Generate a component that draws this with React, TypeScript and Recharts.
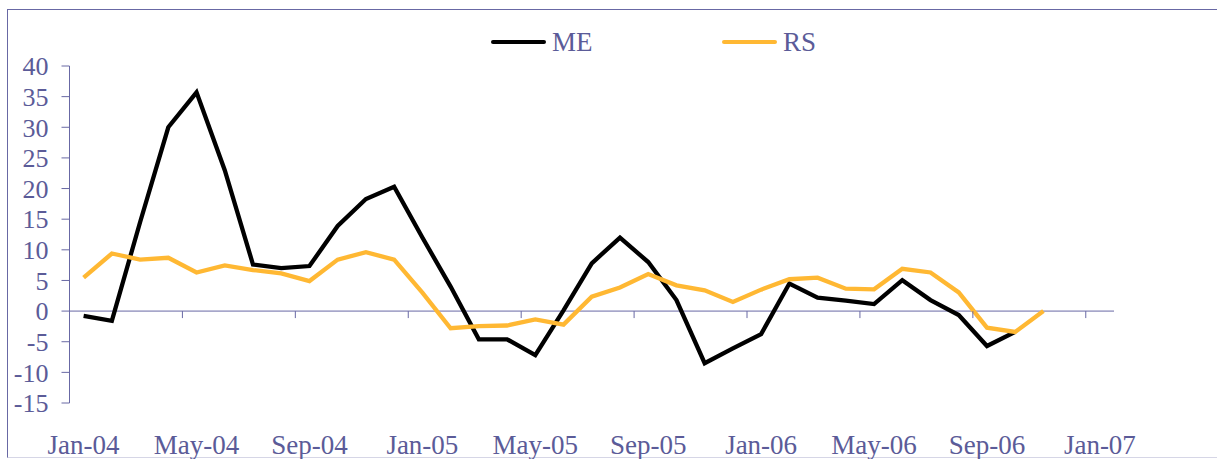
import React from 'react';
import {
  LineChart,
  Line,
  XAxis,
  YAxis,
  Legend,
  ReferenceLine,
} from 'recharts';

// Monthly categories, Jan-04 .. Jan-07
const months = [
  'Jan-04', 'Feb-04', 'Mar-04', 'Apr-04', 'May-04', 'Jun-04', 'Jul-04', 'Aug-04', 'Sep-04', 'Oct-04', 'Nov-04', 'Dec-04',
  'Jan-05', 'Feb-05', 'Mar-05', 'Apr-05', 'May-05', 'Jun-05', 'Jul-05', 'Aug-05', 'Sep-05', 'Oct-05', 'Nov-05', 'Dec-05',
  'Jan-06', 'Feb-06', 'Mar-06', 'Apr-06', 'May-06', 'Jun-06', 'Jul-06', 'Aug-06', 'Sep-06', 'Oct-06', 'Nov-06', 'Dec-06',
  'Jan-07',
];

const meValues: (number | null)[] = [
  -0.8, -1.6, 14.5, 30.0, 35.7, 23.0, 7.6, 7.0, 7.35, 13.9, 18.3, 20.3,
  12.0, 4.0, -4.6, -4.6, -7.2, 0.1, 7.8, 12.0, 8.0, 1.8, -8.5, -6.1,
  -3.75, 4.5, 2.2, 1.7, 1.15, 5.05, 1.8, -0.65, -5.7, -3.4, null, null,
  null,
];

const rsValues: (number | null)[] = [
  5.45, 9.4, 8.4, 8.7, 6.3, 7.45, 6.7, 6.15, 4.9, 8.4, 9.6, 8.4,
  3.0, -2.8, -2.45, -2.35, -1.35, -2.2, 2.35, 3.85, 6.05, 4.2, 3.4, 1.5,
  3.5, 5.2, 5.45, 3.65, 3.55, 6.9, 6.3, 3.05, -2.7, -3.4, 0.0, null,
  null,
];

const yTicks = [-15, -10, -5, 0, 5, 10, 15, 20, 25, 30, 35, 40];

const data = months.map((m, i) => ({ month: m, ME: meValues[i], RS: rsValues[i] }));

const W = 1217;
const H = 459;
const PLOT_LEFT = 69.5;
const PLOT_RIGHT = 1114;
const PLOT_TOP = 66;
const PLOT_BOTTOM = 403;
const Y_MIN = -15;
const Y_MAX = 40;
const BAND = (PLOT_RIGHT - PLOT_LEFT) / months.length;
const ZERO_Y = PLOT_TOP + ((Y_MAX - 0) / (Y_MAX - Y_MIN)) * (PLOT_BOTTOM - PLOT_TOP);

const AXIS = '#6868a4';
const TEXT = '#5b5b98';
const FONT = '"Liberation Serif", "Times New Roman", serif';

const XTick = (props: any) => {
  const { x, payload } = props;
  const bx = x - BAND / 2;
  return (
    <g>
      <line x1={bx} x2={bx} y1={ZERO_Y} y2={ZERO_Y + 7} stroke={AXIS} strokeWidth={1} />
      <text x={x} y={454} textAnchor="middle" fill={TEXT} fontSize={27} fontFamily={FONT}>
        {payload.value}
      </text>
    </g>
  );
};

const legendPos: Record<string, number> = { ME: 491, RS: 722 };

const LegendContent = (props: any) => {
  const { payload } = props;
  return (
    <div style={{ position: 'relative', width: W, height: 40 }}>
      {payload.map((entry: any) => (
        <div
          key={entry.value}
          style={{
            position: 'absolute',
            left: legendPos[entry.value],
            top: 0,
            height: 40,
            display: 'flex',
            alignItems: 'center',
          }}
        >
          <div style={{ width: 55, height: 4, background: entry.color, borderRadius: 2 }} />
          <span style={{ marginLeft: 6, color: TEXT, fontSize: 27, fontFamily: FONT, lineHeight: '40px' }}>
            {entry.value}
          </span>
        </div>
      ))}
    </div>
  );
};

export default function App() {
  return (
    <div style={{ position: 'absolute', left: 0, top: 0, width: W, height: H, overflow: 'hidden', background: '#fff' }}>
      <div
        style={{
          position: 'absolute',
          left: 7,
          top: 9,
          width: W,
          height: 447,
          borderLeft: `1.5px solid ${AXIS}`,
          borderTop: `1.5px solid ${AXIS}`,
          borderBottom: '1px solid #d6d6e6',
        }}
      />
      <LineChart
        width={W}
        height={H}
        data={data}
        margin={{ top: PLOT_TOP, right: W - PLOT_RIGHT, bottom: 0, left: 0 }}
      >
        <XAxis
          dataKey="month"
          scale="band"
          interval={3}
          height={H - PLOT_BOTTOM}
          axisLine={false}
          tickLine={false}
          tick={<XTick />}
        />
        <YAxis
          width={PLOT_LEFT}
          domain={[Y_MIN, Y_MAX]}
          ticks={yTicks}
          interval={0}
          axisLine={{ stroke: AXIS }}
          tickLine={{ stroke: AXIS }}
          tickSize={8}
          tickMargin={13}
          tick={{ fill: TEXT, fontSize: 26, fontFamily: FONT }}
        />
        <ReferenceLine y={0} stroke={AXIS} strokeWidth={1} />
        <Legend
          verticalAlign="middle"
          align="center"
          layout="horizontal"
          wrapperStyle={{ position: 'absolute', top: 22, left: 0, width: W, height: 40 }}
          content={<LegendContent />}
        />
        <Line
          type="linear"
          dataKey="ME"
          stroke="#000000"
          strokeWidth={4.3}
          dot={false}
          activeDot={false}
          isAnimationActive={false}
        />
        <Line
          type="linear"
          dataKey="RS"
          stroke="#ffb833"
          strokeWidth={4.3}
          dot={false}
          activeDot={false}
          isAnimationActive={false}
        />
      </LineChart>
    </div>
  );
}
